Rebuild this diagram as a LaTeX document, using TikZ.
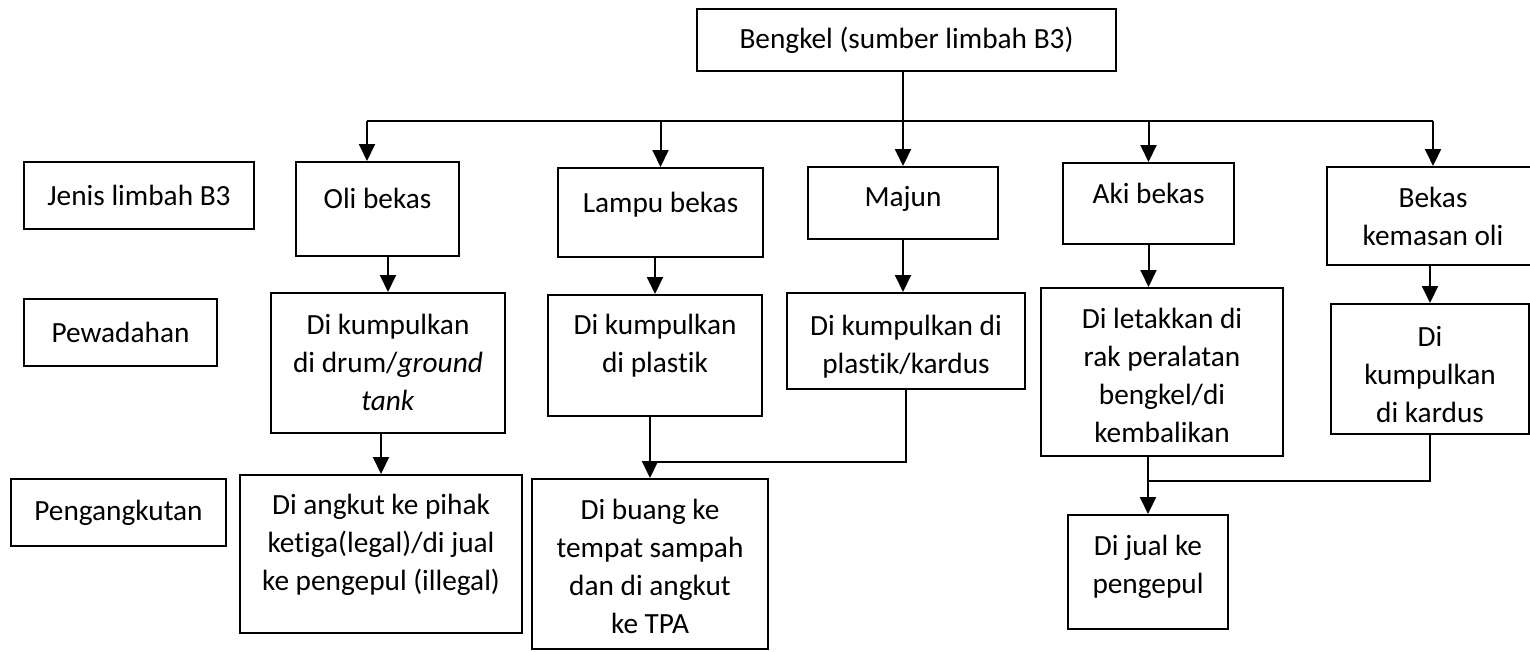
\documentclass[tikz,border=0pt]{standalone}
\usepackage{fontspec}
\setmainfont{Carlito}[Ligatures=NoCommon]
\usetikzlibrary{positioning, arrows.meta}

\begin{document}
\begin{tikzpicture}[x=1pt, y=-1pt, >={Triangle[width=16pt, length=17pt]},
  font=\fontsize{29.3}{38}\selectfont,
  box/.style={draw, line width=2pt, inner sep=0pt, align=center},
  txt/.style={inner sep=0pt, align=center},
  flow/.style={->, line width=2pt},
  link/.style={line width=1.2pt}]
  \useasboundingbox (0,0) rectangle (1530,651);

  % source and row titles
  \node[box, minimum width=419, minimum height=62] (bengkel) at (906.5,40) {Bengkel (sumber limbah B3)};
  \node[box, minimum width=230, minimum height=67] (jenis) at (139,195.5) {Jenis limbah B3};
  \node[box, minimum width=193, minimum height=67] (pewadahan) at (120.5,332.5) {Pewadahan};
  \node[box, minimum width=215, minimum height=67] (pengangkutan) at (118.5,512.5) {Pengangkutan};

  % jenis limbah
  \node[box, minimum width=163, minimum height=94] (oli) at (377.5,209) {};
  \node[txt, below=27pt of oli.north] (olitxt) {Oli bekas};
  \node[box, minimum width=205, minimum height=89] (lampu) at (660.5,212.5) {};
  \node[txt, below=25pt of lampu.north] (lamputxt) {Lampu bekas};
  \node[box, minimum width=190, minimum height=72] (majun) at (903,203) {};
  \node[txt, below=20pt of majun.north] (majuntxt) {Majun};
  \node[box, minimum width=171, minimum height=81] (aki) at (1148.5,203.5) {};
  \node[txt, below=21pt of aki.north] (akitxt) {Aki bekas};
  \node[box, minimum width=212, minimum height=98] (bekas) at (1433,216) {};
  \node[txt, below=21pt of bekas.north] (bekastxt) {Bekas\\kemasan oli};

  % pewadahan
  \node[box, minimum width=234, minimum height=140] (oliwadah) at (388,363) {};
  \node[txt, below=22pt of oliwadah.north] (oliwadahtxt) {Di kumpulkan\\di drum/\textit{ground}\\\textit{tank}};
  \node[box, minimum width=214, minimum height=121] (lampuwadah) at (655,355.5) {};
  \node[txt, below=20pt of lampuwadah.north] (lampuwadahtxt) {Di kumpulkan\\di plastik};
  \node[box, minimum width=238, minimum height=96] (majunwadah) at (906,341) {};
  \node[txt, below=23pt of majunwadah.north] (majunwadahtxt) {Di kumpulkan di\\plastik/kardus};
  \node[box, minimum width=242, minimum height=168] (akiwadah) at (1162,372) {};
  \node[txt, below=21pt of akiwadah.north] (akiwadahtxt) {Di letakkan di\\rak peralatan\\bengkel/di\\kembalikan};
  \node[box, minimum width=198, minimum height=130] (bekaswadah) at (1430,369) {};
  \node[txt, below=23pt of bekaswadah.north] (bekaswadahtxt) {Di\\kumpulkan\\di kardus};

  % pengangkutan
  \node[box, minimum width=282, minimum height=158] (oliangkut) at (381,554) {};
  \node[txt, below=20pt of oliangkut.north] (oliangkuttxt) {Di angkut ke pihak\\ketiga(legal)/di jual\\ke pengepul (illegal)};
  \node[box, minimum width=236, minimum height=170] (lampuangkut) at (650,564) {};
  \node[txt, below=21pt of lampuangkut.north] (lampuangkuttxt) {Di buang ke\\tempat sampah\\dan di angkut\\ke TPA};
  \node[box, minimum width=160, minimum height=114] (akiangkut) at (1148,572) {};
  \node[txt, below=21pt of akiangkut.north] (akiangkuttxt) {Di jual ke\\pengepul};

  % from the source to each kind of waste
  \coordinate (bus) at (903,121);
  \coordinate (olitop) at ([xshift=-10.5pt]oli.north);
  \draw[link] (bengkel.south -| bus) -- (bus);
  \draw[link] (olitop |- bus) -- (bekas.north |- bus);
  \draw[flow] (olitop |- bus) -- (olitop);
  \draw[flow] (lampu.north |- bus) -- (lampu.north);
  \draw[flow] (majun.north |- bus) -- (majun.north);
  \draw[flow] (aki.north |- bus) -- (aki.north);
  \draw[flow] (bekas.north |- bus) -- (bekas.north);

  % jenis -> pewadahan
  \draw[flow] (oliwadah.north |- oli.south) -- (oliwadah.north);
  \draw[flow] (lampuwadah.north |- lampu.south) -- (lampuwadah.north);
  \draw[flow] (majun.south) -- (majun.south |- majunwadah.north);
  \draw[flow] (aki.south) -- (aki.south |- akiwadah.north);
  \draw[flow] (bekaswadah.north |- bekas.south) -- (bekaswadah.north);

  % pewadahan -> pengangkutan
  \draw[flow] (oliangkut.north |- oliwadah.south) -- (oliangkut.north);
  \draw[flow] (lampuangkut.north |- lampuwadah.south) -- (lampuangkut.north);
  \draw[link] (majunwadah.south) |- ([yshift=16pt]lampuangkut.north);
  \draw[flow] (akiangkut.north |- akiwadah.south) -- (akiangkut.north);
  \draw[link] (bekaswadah.south) |- ([yshift=33pt]akiangkut.north);
\end{tikzpicture}
\end{document}
